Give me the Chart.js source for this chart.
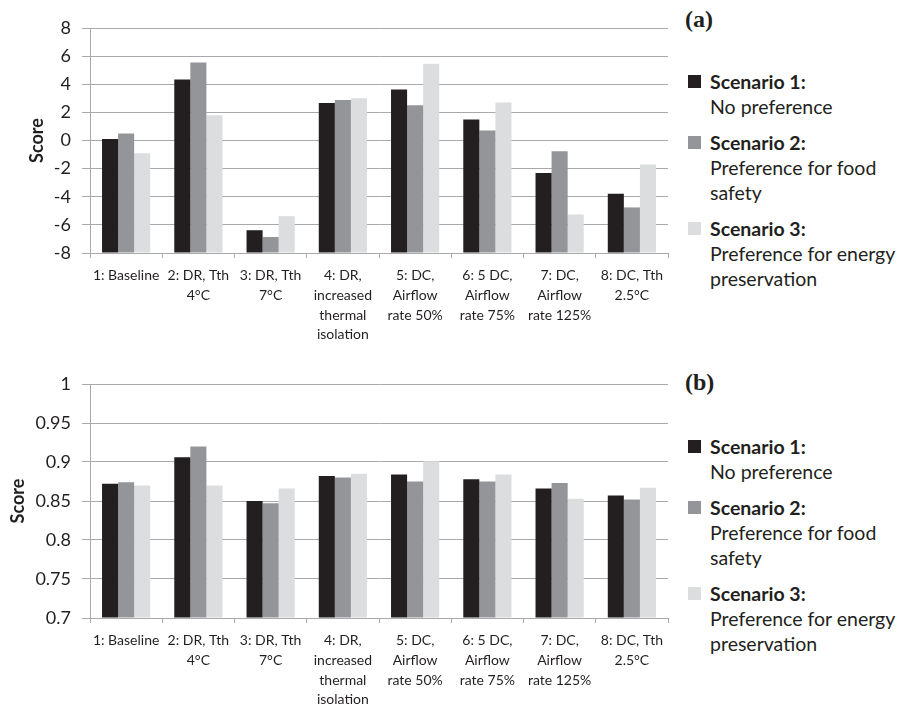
<!DOCTYPE html>
<html><head><meta charset="utf-8">
<script src="https://cdn.jsdelivr.net/npm/chart.js@4"></script>
<style>
body{margin:0;width:900px;height:709px;background:#fff;position:relative;overflow:hidden;font-family:Lato,sans-serif;}
.cw{position:absolute;left:0;width:672px;}
#wa{top:0;height:345px;}
#wb{top:356px;height:353px;}
.lg{position:absolute;left:685px;width:215px;color:#231f20;font-size:19.5px;line-height:25px;}
.grp{position:relative;padding-left:25px;margin-bottom:11px;}
.sw{position:absolute;left:3px;top:6px;width:13px;height:13px;}
.nm{font-weight:bold;}
.tag{position:absolute;left:685px;font-family:"Liberation Serif",serif;font-weight:bold;font-size:24px;color:#231f20;}
</style></head>
<body>
<div class="cw" id="wa"><canvas id="ca"></canvas></div>
<div class="cw" id="wb"><canvas id="cb"></canvas></div>
<div class="tag" style="top:6px">(a)</div>
<div class="tag" style="top:369px">(b)</div>
<div class="lg" id="lga" style="top:69px"></div>
<div class="lg" id="lgb" style="top:434px"></div>
<script>
const categories = [
  ['1: Baseline'],
  ['2: DR, Tth','4°C'],
  ['3: DR, Tth','7°C'],
  ['4: DR,','increased','thermal','isolation'],
  ['5: DC,','Airflow','rate 50%'],
  ['6: 5 DC,','Airflow','rate 75%'],
  ['7: DC,','Airflow','rate 125%'],
  ['8: DC, Tth','2.5°C']
];
const seriesNames = ['Scenario 1:','Scenario 2:','Scenario 3:'];
const seriesDescs = [['No preference'],['Preference for food','safety'],['Preference for energy','preservation']];
const seriesColors = ['#231f20','#939598','#dcddde'];

// Panel (a)
const scoreA_s1 = [0.1, 4.33, -6.38, 2.67, 3.62, 1.5, -2.31, -3.79];
const scoreA_s2 = [0.5, 5.55, -6.86, 2.88, 2.5, 0.71, -0.76, -4.76];
const scoreA_s3 = [-0.9, 1.8, -5.38, 3.0, 5.45, 2.71, -5.26, -1.71];
const ticksA = {min:-8, max:8, step:2};

// Panel (b)
const scoreB_s1 = [0.872, 0.906, 0.850, 0.882, 0.884, 0.878, 0.866, 0.857];
const scoreB_s2 = [0.874, 0.920, 0.847, 0.880, 0.875, 0.875, 0.873, 0.852];
const scoreB_s3 = [0.870, 0.870, 0.866, 0.885, 0.901, 0.884, 0.853, 0.867];
const ticksB = {min:0.7, max:1, step:0.05};

const gridCol = '#a7a9ac';
const txtCol = '#231f20';

function makeChart(id, series, tk, titlePad, xh){
  new Chart(document.getElementById(id), {
    type:'bar',
    data:{
      labels: categories,
      datasets: series.map((d,i)=>({
        label: seriesNames[i], data: d, backgroundColor: seriesColors[i],
        base: tk.min, barPercentage:1, categoryPercentage:0.667, borderWidth:0
      }))
    },
    options:{
      responsive:true, maintainAspectRatio:false, animation:false,
      layout:{padding:{top:28,right:4,left:0,bottom:0}},
      plugins:{legend:{display:false}, tooltip:{enabled:false}},
      scales:{
        x:{
          grid:{display:true, drawOnChartArea:false, offset:true, tickLength:5, color:gridCol},
          border:{display:true, color:gridCol},
          ticks:{color:txtCol, font:{family:'Lato', size:14, lineHeight:1.4}, padding:8, maxRotation:0, autoSkip:false},
          afterFit(s){ s.height = xh; }
        },
        y:{
          min:tk.min, max:tk.max,
          grid:{color:gridCol, tickLength:8},
          border:{display:true, color:gridCol},
          ticks:{stepSize:tk.step, color:txtCol, font:{family:'Lato', size:18}, padding:11,
            callback:v=>String(Number(v.toFixed(2)))},
          title:{display:true, text:'Score', color:txtCol, font:{family:'Lato', size:18, weight:'bold'}, padding:{top:titlePad, bottom:0}},
          afterFit(s){ s.width = 90; }
        }
      }
    }
  });
}
makeChart('ca', [scoreA_s1, scoreA_s2, scoreA_s3], ticksA, 26, 92);
makeChart('cb', [scoreB_s1, scoreB_s2, scoreB_s3], ticksB, 7, 91);

function makeLegend(id){
  const el = document.getElementById(id);
  seriesNames.forEach((n,i)=>{
    const g = document.createElement('div'); g.className='grp';
    const sw = document.createElement('div'); sw.className='sw'; sw.style.background=seriesColors[i];
    g.appendChild(sw);
    const nm = document.createElement('div'); nm.className='nm'; nm.textContent=n; g.appendChild(nm);
    seriesDescs[i].forEach(t=>{ const d=document.createElement('div'); d.textContent=t; g.appendChild(d); });
    el.appendChild(g);
  });
}
makeLegend('lga'); makeLegend('lgb');
</script>
</body></html>
